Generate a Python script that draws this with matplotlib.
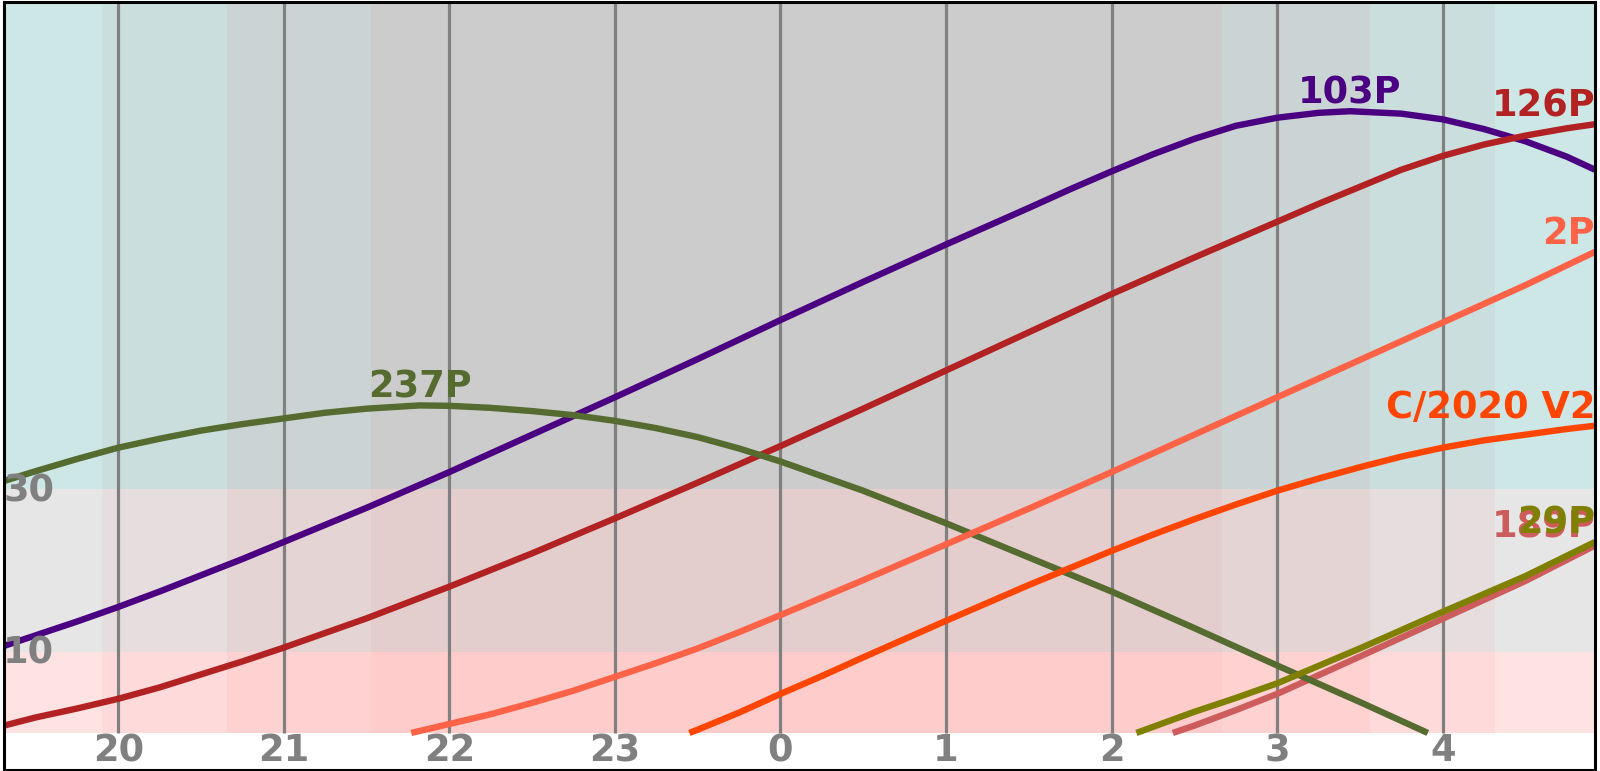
import numpy as np
import matplotlib
matplotlib.use('Agg')
import matplotlib.pyplot as plt
from matplotlib.patches import Rectangle

# hours after midnight are written as 24+h so the night runs continuously
hour_ticks = [20, 21, 22, 23, 24, 25, 26, 27, 28]
hour_labels = ['20', '21', '22', '23', '0', '1', '2', '3', '4']
alt_labels = [10, 30]
x_range = (19.31, 28.92)

# twilight limits (evening, then morning)
dusk = [19.90, 20.655, 21.526]     # civil end, nautical end, astronomical end
dawn = [26.669, 27.559, 28.314]    # astronomical start, nautical start, civil start

# altitude bands and their colours (civil, nautical, astronomical, night)
band_edges = [0, 10, 30, 90]
band_colors = [
    ['#FFE2E2', '#FFDADA', '#FFD2D2', '#FFCCCC'],
    ['#E6E6E6', '#E6DEDE', '#E4D4D4', '#E3CDCD'],
    ['#CDE6E6', '#CBDEDE', '#CBD4D4', '#CCCCCC'],
]

# comet altitude curves (hour, altitude in degrees)
t_103p = [19.31, 19.5, 19.75, 20.0, 20.25, 20.5, 20.75, 21.0, 21.5, 22.0, 22.5, 23.0,
          23.5, 24.0, 24.5, 25.0, 25.5, 25.75, 26.0, 26.25, 26.5, 26.75, 27.0, 27.25,
          27.44, 27.75, 28.0, 28.25, 28.5, 28.75, 28.92]
a_103p = [10.7, 12.0, 13.7, 15.5, 17.4, 19.4, 21.4, 23.5, 27.7, 32.1, 36.7, 41.3,
          46.0, 50.8, 55.5, 60.1, 64.6, 66.9, 69.1, 71.2, 73.1, 74.7, 75.7, 76.3,
          76.5, 76.2, 75.5, 74.3, 72.8, 70.9, 69.3]

t_126p = [19.31, 19.5, 19.75, 20.0, 20.25, 20.5, 20.75, 21.0, 21.5, 22.0, 22.5, 23.0,
          23.5, 24.0, 24.5, 25.0, 25.5, 26.0, 26.5, 27.0, 27.25, 27.5, 27.75, 28.0,
          28.25, 28.5, 28.75, 28.92]
a_126p = [0.9, 1.9, 3.0, 4.2, 5.6, 7.2, 8.8, 10.5, 14.1, 18.0, 22.1, 26.4,
          30.8, 35.3, 39.9, 44.6, 49.3, 54.0, 58.5, 62.9, 65.1, 67.2, 69.3, 71.0,
          72.4, 73.5, 74.4, 74.9]

t_2p = [21.77, 22.0, 22.25, 22.5, 22.75, 23.0, 23.25, 23.5, 23.75, 24.0, 24.5, 25.0,
        25.5, 26.0, 26.5, 27.0, 27.5, 28.0, 28.5, 28.92]
a_2p = [0.0, 1.1, 2.3, 3.7, 5.2, 6.9, 8.6, 10.4, 12.4, 14.5, 18.8, 23.2,
        27.6, 32.1, 36.7, 41.3, 45.9, 50.5, 55.1, 59.2]

t_v2 = [23.45, 23.5, 23.75, 24.0, 24.25, 24.5, 25.0, 25.5, 26.0, 26.25, 26.5, 26.75,
        27.0, 27.25, 27.5, 27.75, 28.0, 28.25, 28.5, 28.75, 28.92]
a_v2 = [0.0, 0.4, 2.5, 4.8, 7.0, 9.3, 13.8, 18.2, 22.4, 24.4, 26.3, 28.1,
        29.8, 31.3, 32.7, 34.0, 35.1, 36.0, 36.7, 37.4, 37.8]

t_237p = [19.31, 19.5, 19.75, 20.0, 20.25, 20.5, 20.75, 21.0, 21.25, 21.5, 21.82, 22.0,
          22.25, 22.5, 22.75, 23.0, 23.25, 23.5, 23.75, 24.0, 24.5, 25.0, 25.5, 26.0,
          26.5, 27.0, 27.5, 27.91]
a_237p = [31.0, 32.2, 33.7, 35.1, 36.2, 37.2, 38.0, 38.7, 39.4, 39.9, 40.3, 40.25,
          40.0, 39.6, 39.1, 38.4, 37.5, 36.4, 35.0, 33.4, 29.8, 25.8, 21.6, 17.4,
          12.9, 8.3, 3.8, 0.0]

t_189p = [26.37, 26.5, 26.75, 27.0, 27.5, 28.0, 28.5, 28.92]
a_189p = [0.0, 0.9, 2.8, 4.8, 9.4, 14.05, 18.7, 23.06]

t_29p = [26.15, 26.5, 26.75, 27.0, 27.5, 28.0, 28.5, 28.92]
a_29p = [0.0, 2.6, 4.3, 6.1, 10.4, 14.9, 19.3, 23.5]

comets = [
    ('103P', t_103p, a_103p, '#4B0082'),
    ('126P', t_126p, a_126p, '#B22222'),
    ('189P', t_189p, a_189p, '#CD5C5C'),
    ('237P', t_237p, a_237p, '#556B2F'),
    ('2P', t_2p, a_2p, '#FF6347'),
    ('C/2020 V2', t_v2, a_v2, '#FF4500'),
    ('29P', t_29p, a_29p, '#808000'),
]

fs = 26.5

fig = plt.figure(figsize=(16, 7.71), dpi=100)
ax = fig.add_axes([4 / 1600, 1.5 / 771, 1591 / 1600, 768 / 771])
ax.set_xlim(*x_range)
ax.set_ylim(-4.5, 90)

# background: twilight columns times altitude bands
col_edges = [x_range[0], dusk[0], dusk[1], dusk[2], dawn[0], dawn[1], dawn[2], x_range[1]]
col_level = [0, 1, 2, 3, 2, 1, 0]
for b in range(3):
    for c in range(len(col_level)):
        ax.add_patch(Rectangle((col_edges[c], band_edges[b]),
                               col_edges[c + 1] - col_edges[c],
                               band_edges[b + 1] - band_edges[b],
                               facecolor=band_colors[b][col_level[c]],
                               edgecolor='none', zorder=0))

ax.vlines(hour_ticks, 0, 90, color='gray', lw=2.3, zorder=1)

for name, t, a, color in comets:
    ax.plot(t, a, color=color, lw=4.6, solid_capstyle='butt', zorder=2)
    i = int(np.argmax(a))
    ha = 'right' if i == len(a) - 1 else 'center'
    ax.annotate(name, (min(t[i], x_range[1]), a[i]), xytext=(0, 0),
                textcoords='offset points', ha=ha, va='bottom',
                color=color, fontsize=fs, fontweight='bold', zorder=4)

# altitude labels sit inside the left edge
for alt in alt_labels:
    ax.annotate(str(alt), (0, alt), xycoords=('axes fraction', 'data'),
                xytext=(-0.5, 1.8), textcoords='offset points',
                ha='left', va='center_baseline', color='gray',
                fontsize=fs, fontweight='bold', zorder=5)

ax.set_xticks(hour_ticks)
ax.set_xticklabels(hour_labels, fontweight='bold')
ax.set_yticks([])
ax.tick_params(axis='x', direction='in', length=0, pad=-27.0, labelsize=fs,
               labelcolor='gray')

for s in ax.spines.values():
    s.set_linewidth(2.2)
    s.set_color('black')

fig.savefig('out.png', dpi=100)
